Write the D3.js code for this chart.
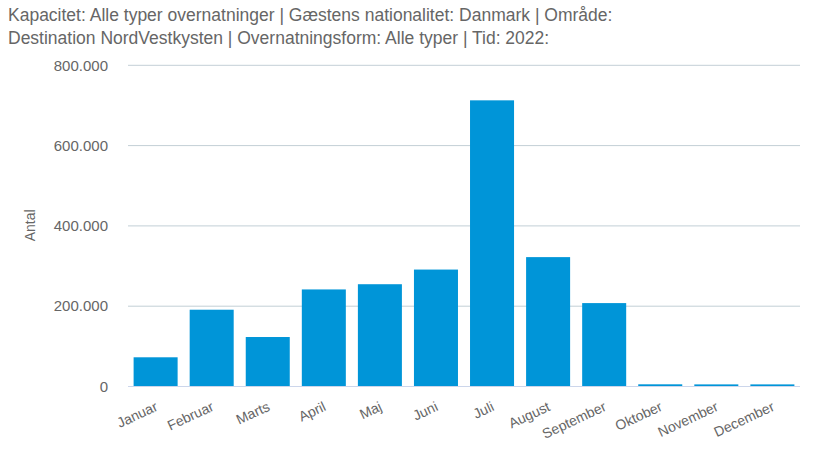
<!DOCTYPE html>
<html><head><meta charset="utf-8">
<script src="https://cdn.jsdelivr.net/npm/d3@7"></script>
<style>body{margin:0;background:#fff;}svg{display:block;font-family:"Liberation Sans",Arial,sans-serif;}</style>
</head><body>
<svg id="c" width="814" height="460"></svg>
<script>
const categories = ["Januar","Februar","Marts","April","Maj","Juni","Juli","August","September","Oktober","November","December"];
const values = [71500, 190000, 122000, 240500, 253500, 290000, 711500, 321000, 206500, 4200, 4000, 4000];
const yTicks = [0, 200000, 400000, 600000, 800000];
const titleLines = ["Kapacitet: Alle typer overnatninger | Gæstens nationalitet: Danmark | Område:",
                    "Destination NordVestkysten | Overnatningsform: Alle typer | Tid: 2022:"];
const yTitle = "Antal";

const svg = d3.select("#c");
const m = {left:128, right:800, top:64.8, bottom:386};
const x = d3.scaleBand().domain(categories).range([m.left, m.right]).paddingInner(0.215).paddingOuter(0.1);
const y = d3.scaleLinear().domain([0, 800000]).range([m.bottom, m.top]);
const fmt = v => d3.format(",")(v).replace(/,/g, ".");

svg.selectAll("text.title").data(titleLines).join("text")
  .attr("x", 8).attr("y", (d,i) => 21 + i*22.5)
  .attr("font-size", 17.5).attr("fill", "#666").text(d => d);

// grid
const gy = svg.append("g").attr("transform", `translate(${m.left},0)`)
  .call(d3.axisLeft(y).tickValues(yTicks).tickSize(-(m.right - m.left)).tickFormat(fmt).tickPadding(20));
gy.select(".domain").remove();
gy.selectAll(".tick line").attr("stroke", d => d === 0 ? "#ccd6eb" : "#c3cfd6").attr("stroke-width", 1);
gy.selectAll(".tick text").attr("font-size", 15).attr("fill", "#666").attr("font-family", "inherit").attr("dy", "0.35em");

svg.append("text").attr("transform", `translate(35,${(m.top+m.bottom)/2}) rotate(-90)`)
  .attr("text-anchor", "middle").attr("font-size", 14).attr("fill", "#666").text(yTitle);

svg.append("g").selectAll("rect").data(values).join("rect")
  .attr("x", (d,i) => x(categories[i])).attr("width", x.bandwidth())
  .attr("y", d => y(d)).attr("height", d => y(0) - y(d))
  .attr("fill", "#0095d8");

const gx = svg.append("g").attr("transform", `translate(0,${m.bottom})`)
  .call(d3.axisBottom(x).tickSize(0).tickPadding(0));
gx.select(".domain").remove();
gx.selectAll(".tick text").attr("font-size", 14).attr("fill", "#666").attr("font-family", "inherit")
  .attr("text-anchor", "end").attr("dy", 0).attr("y", 0)
  .attr("transform", "translate(3,24) rotate(-25)");
</script>
</body></html>
